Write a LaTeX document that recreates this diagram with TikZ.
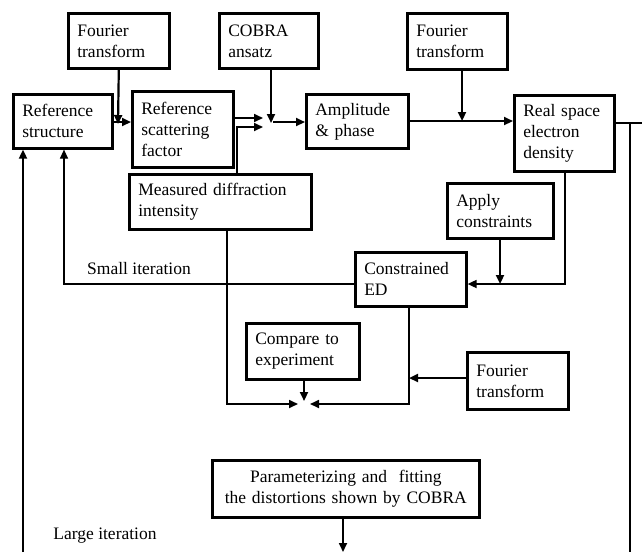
\documentclass[tikz,border=0pt]{standalone}
\usepackage{fontspec}
\setmainfont{Liberation Serif}
\usetikzlibrary{arrows.meta}
\tikzset{
  box/.style={draw, line width=2.6pt, anchor=north west, align=left, inner xsep=9pt, inner ysep=0pt,
    font=\fontsize{17.5}{21}\selectfont},
  lbl/.style={font=\fontsize{17.5}{21}\selectfont, inner sep=0pt},
  thin/.style={line width=1.2pt},
  mid/.style={line width=1.7pt},
  thick/.style={line width=2.2pt},
  tip/.style={-{Triangle[length=9pt,width=8pt]}},
}
\begin{document}
\begin{tikzpicture}[x=1pt,y=-1pt]
\useasboundingbox (0,0) rectangle (642,552);
% boxes
\node[box, minimum width=101, minimum height=55, text width=83] (ft1) at (67,12) {Fourier\\transform};
\node[box, minimum width=99, minimum height=55, text width=81] (cobra) at (218,12) {COBRA\\ansatz};
\node[box, minimum width=100, minimum height=56, text width=82] (ft3) at (406,12) {Fourier\\transform};
\node[box, minimum width=99, minimum height=54, text width=81] (rs) at (12,93) {Reference\\structure};
\node[box, minimum width=101, minimum height=76, text width=83] (rsf) at (131,90) {Reference\\scattering\\factor};
\node[box, minimum width=102, minimum height=54, text width=84] (amp) at (305,93) {Amplitude\\\& phase};
\node[box, minimum width=100, minimum height=76, text width=82] (rsed) at (513,94) {Real space\\electron\\density};
\node[box, minimum width=182, minimum height=55, text width=164] (meas) at (128,173) {Measured diffraction\\intensity};
\node[box, minimum width=106, minimum height=55, text width=88] (apply) at (446,182) {Apply\\constraints};
\node[box, minimum width=111, minimum height=54, text width=93] (ced) at (354,251) {Constrained\\ED};
\node[box, minimum width=113, minimum height=56, text width=95] (cmp) at (245,322) {Compare to\\experiment};
\node[box, minimum width=101, minimum height=57, text width=83] (ft4) at (466,351) {Fourier\\transform};
\node[box, minimum width=267, minimum height=57, text width=249, align=center] (par) at (211,459) {Parameterizing and\ \ fitting\\the distortions shown by COBRA};
% labels
\node[lbl] (small) at (139,269) {Small iteration};
\node[lbl] (large) at (105,536) {Large iteration};
% junction coordinates
\coordinate (jA) at (118,122);
\coordinate (jB) at (271,122);
\coordinate (jBa) at (263,118);
\coordinate (jBb) at (263,127);
\coordinate (jBo) at (273,122);
\coordinate (jC) at (462,121);
\coordinate (jD) at (500,284);
\coordinate (jE) at (304,404);
\coordinate (jEl) at (298,404);
\coordinate (jEr) at (310,404);
\coordinate (jF) at (409,378);
\coordinate (bl) at (23,552);
\coordinate (br) at (630,552);
\coordinate (bp) at (343,552);
\coordinate (redge) at (642,123);
\coordinate (rv) at (630,123);
% connectors top row
\draw[thick,tip] (rs.east |- jA) -- (rsf.west |- jA);
\draw[thick,tip] (ft1.south) -- ([yshift=-2]jA);
\draw[mid,tip] (rsf.east |- jBa) -- (jBa);
\draw[mid,tip] (meas.north -| 237,0) |- (jBb);
\draw[thick,tip] (cobra.south -| jB) -- ([yshift=-1]jB);
\draw[thick,tip] (jBo) -- (amp.west |- jBo);
\draw[thick,tip] (amp.east |- jC) -- (rsed.west |- jC);
\draw[thick,tip] (ft3.south -| jC) -- (jC);
% right side
\draw[mid] (rsed.east |- redge) -- (redge);
\draw[mid] (rv) -- (br);
\draw[mid,tip] (rsed.south -| 565,0) |- (ced.east |- jD);
\draw[thick,tip] (apply.south -| jD) -- (jD);
% small iteration
\draw[thin,tip] (ced.west |- jD) -| (rs.south -| 64,0);
% large iteration
\draw[mid,tip] (bl) -- (rs.south -| bl);
% bottom junction
\draw[mid,tip] (meas.south -| 227,0) |- (jEl);
\draw[thick,tip] (cmp.south -| jE) -- ([yshift=3]jE);
\draw[mid,tip] (ced.south -| jF) |- (jEr);
\draw[thick,tip] (ft4.west |- jF) -- (jF);
% parameterizing
\draw[mid,tip] (par.south -| bp) -- (bp);
\end{tikzpicture}
\end{document}
